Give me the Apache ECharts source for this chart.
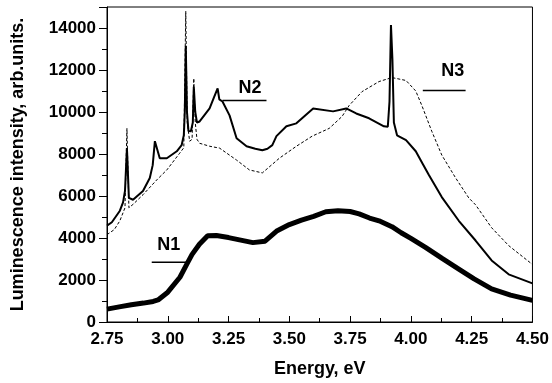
<!DOCTYPE html>
<html><head><meta charset="utf-8">
<script src="https://cdn.jsdelivr.net/npm/echarts@6/dist/echarts.min.js"></script>
<style>html,body{margin:0;padding:0;background:#fff}#c{width:552px;height:383px}</style>
</head><body><div id="c"></div>
<script>
// ---- data (Energy eV, intensity arb.units.) ----
const n1E = [2.75,2.80,2.85,2.90,2.94,2.96,3.00,3.05,3.08,3.10,3.13,3.164,3.20,3.25,3.30,3.35,3.40,3.45,3.50,3.55,3.60,3.65,3.70,3.75,3.787,3.83,3.869,3.922,3.96,4.00,4.06,4.13,4.197,4.26,4.332,4.41,4.50];
const n1I = [615,720,820,900,980,1050,1420,2130,2790,3220,3700,4110,4120,4020,3900,3780,3850,4350,4640,4850,5030,5250,5300,5260,5150,4950,4820,4540,4250,3980,3550,3020,2520,2050,1575,1280,1030];

const n2E = [2.75,2.77,2.803,2.816,2.824,2.832,2.840,2.857,2.898,2.926,2.938,2.947,2.967,2.996,3.037,3.057,3.066,3.070,3.074,3.079,3.085,3.095,3.103,3.107,3.113,3.120,3.131,3.172,3.19,3.205,3.212,3.225,3.254,3.283,3.324,3.36,3.389,3.41,3.43,3.447,3.488,3.529,3.598,3.68,3.734,3.775,3.828,3.889,3.905,3.912,3.918,3.924,3.930,3.943,3.98,4.02,4.05,4.074,4.127,4.197,4.266,4.332,4.402,4.50];
const n2I = [4590,4750,5300,5700,6240,8280,5910,5820,6240,6860,7470,8610,7800,7800,8130,8420,8900,10000,13150,10000,9100,9080,9500,11200,10000,9500,9550,10170,10700,11120,10600,10500,9840,8750,8370,8250,8180,8250,8420,8850,9320,9460,10170,10030,10170,9930,9700,9320,9300,10500,14140,12500,9500,8890,8660,8130,7500,7000,5950,4820,3880,2930,2270,1840];

const n3E = [2.75,2.78,2.803,2.824,2.832,2.840,2.857,2.898,2.955,2.996,3.049,3.066,3.074,3.080,3.090,3.100,3.107,3.113,3.120,3.131,3.172,3.213,3.283,3.336,3.389,3.459,3.529,3.594,3.664,3.717,3.746,3.799,3.869,3.922,3.98,4.02,4.045,4.086,4.127,4.184,4.238,4.266,4.332,4.402,4.50];
const n3I = [4160,4400,4820,5440,9220,5440,5600,6060,6770,7240,8040,8300,14800,9500,8610,8700,11600,9500,8700,8510,8370,8280,7710,7240,7100,7800,8370,8850,9220,9790,10310,10970,11450,11640,11500,11000,10310,9080,7950,6860,5910,5580,4490,3640,2740];

const xTicks = ['2.75','3.00','3.25','3.50','3.75','4.00','4.25','4.50'];
const yTicks = [0,2000,4000,6000,8000,10000,12000,14000];

// annotation labels (data space)
const notes = [
  {text:'N1', tx:3.004, ty:3665, x1:2.934, x2:3.09, y:2840},
  {text:'N2', tx:3.338, ty:11120, x1:3.225, x2:3.406, y:10550},
  {text:'N3', tx:4.172, ty:11940, x1:4.049, x2:4.225, y:11020}
];

const pair = (E, I) => E.map((e, i) => [e, I[i]]);
const FONT = '"Liberation Sans", Arial, sans-serif';
const chart = echarts.init(document.getElementById('c'), null, {renderer: 'canvas'});
chart.setOption({
  animation:false,
  grid: {left:107, right:19, top:7, bottom:58, show:true, borderColor:'#000', borderWidth:1, backgroundColor:'transparent'},
  xAxis: {
    type:'value', min:2.75, max:4.5, interval:0.25,
    name:'Energy, eV', nameLocation:'middle', nameGap:38,
    nameTextStyle:{fontFamily:FONT, fontWeight:'bold', fontSize:18, color:'#000'},
    axisLine:{show:true, onZero:false, lineStyle:{color:'#000', width:1}},
    axisTick:{show:true, inside:true, length:6, lineStyle:{color:'#000'}},
    minorTick:{show:true, splitNumber:2, length:4, lineStyle:{color:'#000'}},
    splitLine:{show:false},
    axisLabel:{fontFamily:FONT, fontWeight:'bold', fontSize:17, color:'#000', margin:9,
      formatter: v => { const s = v.toFixed(2); return xTicks.includes(s) ? s : ''; }}
  },
  yAxis: {
    type:'value', min:0, max:15000, interval:2000,
    name:'Luminescence intensity, arb.units.', nameLocation:'middle', nameGap:80,
    nameTextStyle:{fontFamily:FONT, fontWeight:'bold', fontSize:18, color:'#000'},
    axisLine:{show:true, onZero:false, lineStyle:{color:'#000', width:1}},
    axisTick:{show:true, inside:false, length:8, lineStyle:{color:'#000'}},
    minorTick:{show:true, splitNumber:2, length:5, lineStyle:{color:'#000'}},
    splitLine:{show:false},
    axisLabel:{fontFamily:FONT, fontWeight:'bold', fontSize:17, color:'#000', margin:11, showMaxLabel:false,
      formatter: v => yTicks.includes(v) ? String(v) : ''}
  },
  series: [
    {type:'line', name:'N1', data:pair(n1E,n1I), showSymbol:false, symbol:'none',
     lineStyle:{color:'#000', width:5}, z:3},
    {type:'line', name:'N2', data:pair(n2E,n2I), showSymbol:false, symbol:'none',
     lineStyle:{color:'#000', width:2}, z:4},
    {type:'line', name:'N3', data:pair(n3E,n3I), showSymbol:false, symbol:'none',
     lineStyle:{color:'#000', width:1, type:[3,2]}, z:2}
  ]
});
const g = [];
notes.forEach(n => {
  const p1 = chart.convertToPixel({gridIndex:0}, [n.x1, n.y]);
  const p2 = chart.convertToPixel({gridIndex:0}, [n.x2, n.y]);
  const pt = chart.convertToPixel({gridIndex:0}, [n.tx, n.ty]);
  g.push({type:'line', shape:{x1:p1[0], y1:p1[1], x2:p2[0], y2:p2[1]}, style:{stroke:'#000', lineWidth:1.5}, z:10});
  g.push({type:'text', x:pt[0], y:pt[1], style:{text:n.text, font:'bold 18px '+FONT, fill:'#000', align:'center', verticalAlign:'middle'}, z:10});
});
chart.setOption({graphic:g});
</script>
</body></html>
